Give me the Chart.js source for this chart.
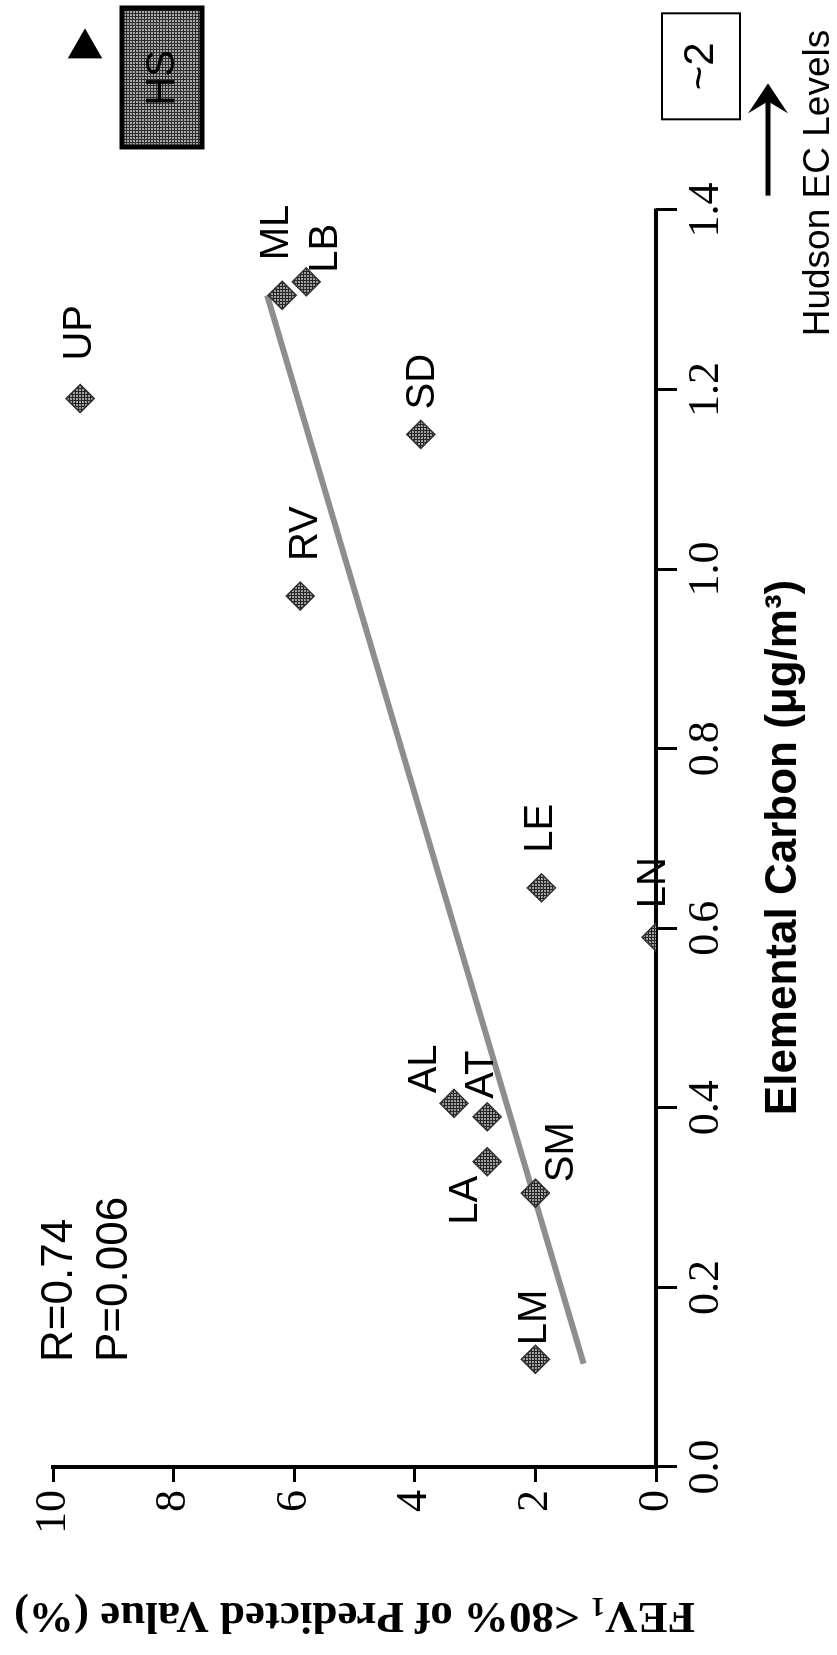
<!DOCTYPE html>
<html>
<head>
<meta charset="utf-8">
<script src="https://cdn.jsdelivr.net/npm/chart.js@4.4.1/dist/chart.umd.min.js"></script>
<style>
  html, body { margin: 0; padding: 0; background: #fff; }
  body { width: 837px; height: 1655px; overflow: hidden; position: relative; }
  /* 원본 차트는 가로로 그리고 통째로 90도 돌림 */
  #wrap { position: absolute; left: 0; top: 0; width: 1655px; height: 837px;
          transform-origin: 0 0; transform: translate(0, 1655px) rotate(-90deg); }
</style>
</head>
<body>
<div id="wrap"><canvas id="myChart" width="1655" height="837"></canvas></div>
<script>
//데이터
const sites = ["LM", "SM", "LA", "AT", "AL", "LN", "LE", "RV", "SD", "UP", "ML", "LB"];
const ecValues = [0.12, 0.305, 0.34, 0.39, 0.405, 0.59, 0.645, 0.97, 1.15, 1.19, 1.305, 1.32];
const fevValues = [2.0, 2.0, 2.8, 2.8, 3.35, 0.0, 1.9, 5.9, 3.9, 9.55, 6.2, 5.8];
const fitX = [0.115, 1.305]; // 회귀선 양 끝
const fitY = [1.2, 6.45];
const hsX = [1.58]; // HS (축 밖)
const hsY = [9.47];
const xTicks = [0, 0.2, 0.4, 0.6, 0.8, 1.0, 1.2, 1.4];
const yTicks = [0, 2, 4, 6, 8, 10];
const statR = "R=0.74";
const statP = "P=0.006";
const hudsonValue = "~2";

// 라벨 위치 (점 기준 px 오프셋, 정렬)
const labelPlace = {
  LM: [14, 0, "left"], SM: [11, 27, "left"], LA: [-14, -21, "right"],
  AT: [18, -5, "left"], AL: [10, -29, "left"], LN: [29, -2, "left"],
  LE: [35, 0, "left"], RV: [35, 6, "left"], SD: [25, 2, "left"],
  UP: [38, 0, "left"], ML: [35, -5, "left"], LB: [9, 20, "left"],
};

const SANS = "'Liberation Sans', Arial, sans-serif";
const SERIF = "'Liberation Serif', 'Times New Roman', serif";

// 회색 격자무늬
function makeHatch(bg, fg) {
  const c = document.createElement("canvas");
  c.width = 3;
  c.height = 3;
  const g = c.getContext("2d");
  g.fillStyle = bg;
  g.fillRect(0, 0, 3, 3);
  g.fillStyle = fg;
  g.fillRect(0, 0, 3, 1);
  g.fillRect(0, 0, 1, 3);
  return g.createPattern(c, "repeat");
}
const hatch = makeHatch("#a0a0a0", "#262626");
const boxHatch = makeHatch("#a8a8a8", "#2e2e2e");

const extras = {
  id: "extras",
  beforeDatasetsDraw(chart) {
    // x축 선은 0 ~ 1.4 까지만
    const ctx = chart.ctx;
    const xs = chart.scales.x;
    const y = chart.chartArea.bottom;
    ctx.save();
    ctx.strokeStyle = "#000";
    ctx.lineWidth = 4;
    ctx.beginPath();
    ctx.moveTo(xs.getPixelForValue(0) - 2, y);
    ctx.lineTo(xs.getPixelForValue(1.4) + 1.5, y);
    ctx.stroke();
    ctx.restore();
  },
  afterDraw(chart) {
    const ctx = chart.ctx;
    const ca = chart.chartArea;
    const xs = chart.scales.x;
    const meta = chart.getDatasetMeta(0);
    const x14 = xs.getPixelForValue(1.4);
    ctx.save();
    ctx.fillStyle = "#000";
    ctx.textBaseline = "middle";

    // 점 라벨
    ctx.font = "40px " + SANS;
    meta.data.forEach(function (pt, i) {
      const p = labelPlace[sites[i]];
      ctx.textAlign = p[2];
      ctx.fillText(sites[i], pt.x + p[0], pt.y + p[1]);
    });

    // R, P
    ctx.textAlign = "left";
    ctx.font = "44px " + SANS;
    ctx.fillText(statR, ca.left + 105, ca.top + 7);
    ctx.fillText(statP, ca.left + 105, ca.top + 62);

    // x축 제목
    ctx.textAlign = "center";
    ctx.font = "bold 44px " + SANS;
    ctx.fillText("Elemental Carbon (μg/m³)", xs.getPixelForValue(0.69), ca.bottom + 128);

    // ~2 박스
    const bx = xs.getPixelForValue(1.56);
    ctx.lineWidth = 2;
    ctx.strokeStyle = "#000";
    ctx.strokeRect(bx - 53, ca.bottom + 6, 106, 78);
    ctx.font = "42px " + SANS;
    ctx.fillText(hudsonValue, bx, ca.bottom + 45);

    // 화살표
    const ay = ca.bottom + 112;
    const ax0 = xs.getPixelForValue(1.416);
    const ax1 = xs.getPixelForValue(1.541);
    ctx.lineWidth = 5;
    ctx.beginPath();
    ctx.moveTo(ax0, ay);
    ctx.lineTo(ax1 - 15, ay);
    ctx.stroke();
    ctx.beginPath();
    ctx.moveTo(ax1, ay);
    ctx.lineTo(ax1 - 30, ay - 20);
    ctx.lineTo(ax1 - 18, ay);
    ctx.lineTo(ax1 - 30, ay + 20);
    ctx.closePath();
    ctx.fill();

    ctx.font = "37px " + SANS;
    ctx.fillText("Hudson EC Levels", xs.getPixelForValue(1.43), ca.bottom + 163);

    // HS 박스
    const hx = x14 + 63, hy = ca.top + 69;
    ctx.fillStyle = boxHatch;
    ctx.fillRect(hx, hy, 139, 80);
    ctx.strokeRect(hx, hy, 139, 80);
    ctx.fillStyle = "#000";
    ctx.font = "40px " + SANS;
    ctx.fillText("HS", hx + 69, hy + 41);

    // y축 제목 (아래첨자)
    const parts = [
      ["FEV", "bold 45px " + SERIF, 0],
      ["1", "bold 28px " + SERIF, 10],
      [" <80% of Predicted Value (%)", "bold 45px " + SERIF, 0],
    ];
    let total = 0;
    parts.forEach(function (p) {
      ctx.font = p[1];
      total += ctx.measureText(p[0]).width;
    });
    ctx.translate(40, (ca.top + ca.bottom) / 2);
    ctx.rotate(-Math.PI / 2);
    ctx.textAlign = "left";
    let cx = -total / 2;
    parts.forEach(function (p) {
      ctx.font = p[1];
      ctx.fillText(p[0], cx, p[2]);
      cx += ctx.measureText(p[0]).width;
    });
    ctx.restore();
  },
};

const ctx = document.getElementById("myChart").getContext("2d");
const myChart = new Chart(ctx, {
  type: "scatter",
  data: {
    datasets: [
      {
        data: ecValues.map((v, i) => ({ x: v, y: fevValues[i] })),
        pointStyle: "rectRot",
        pointRadius: 14,
        backgroundColor: hatch,
        borderColor: "#333",
        borderWidth: 1.5,
      },
      {
        type: "line",
        data: fitX.map((v, i) => ({ x: v, y: fitY[i] })),
        borderColor: "#8e8e8e",
        borderWidth: 6,
        pointRadius: 0,
        fill: false,
      },
      {
        data: hsX.map((v, i) => ({ x: v, y: hsY[i] })),
        pointStyle: "triangle",
        rotation: 90,
        pointRadius: 20,
        backgroundColor: "#000",
        borderColor: "#000",
        borderWidth: 0,
        clip: false,
      },
    ],
  },
  options: {
    responsive: false,
    animation: false,
    devicePixelRatio: 1,
    // 1.4 -> x=1445, 1.6 -> x=1624.6
    layout: { padding: { left: 0, top: 53, right: 30.4, bottom: 0 } },
    scales: {
      x: {
        type: "linear",
        min: 0,
        max: 1.6,
        afterBuildTicks: (s) => { s.ticks = xTicks.map((v) => ({ value: v })); },
        afterFit: (s) => { s.height = 181; },
        ticks: {
          color: "#000",
          padding: 3,
          maxRotation: 0,
          font: { family: SERIF, size: 44 },
          callback: (v) => Number(v).toFixed(1),
        },
        grid: { drawOnChartArea: false, tickLength: 21, tickWidth: 3, tickColor: "#000" },
        border: { display: false },
      },
      y: {
        min: 0,
        max: 10,
        afterBuildTicks: (s) => { s.ticks = yTicks.map((v) => ({ value: v })); },
        afterFit: (s) => { s.width = 188; },
        ticks: {
          color: "#000",
          padding: 8,
          font: { family: SERIF, size: 44 },
        },
        grid: { drawOnChartArea: false, tickLength: 15, tickWidth: 3, tickColor: "#000" },
        border: { color: "#000", width: 4 },
      },
    },
    plugins: {
      legend: { display: false },
      tooltip: { enabled: false },
    },
  },
  plugins: [extras],
});
</script>
</body>
</html>
